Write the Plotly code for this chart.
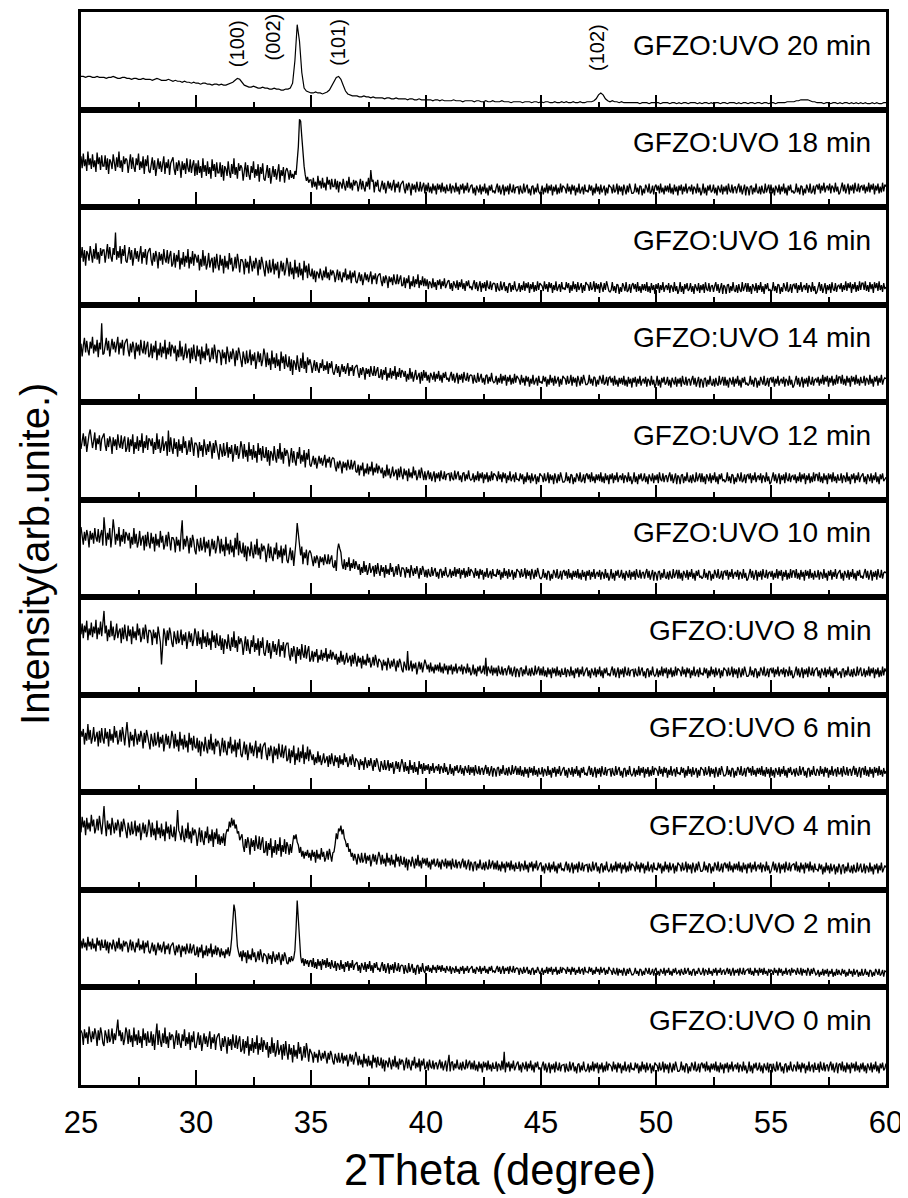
import numpy as np
import plotly.graph_objects as go

sample_labels = ["GFZO:UVO 20 min", "GFZO:UVO 18 min", "GFZO:UVO 16 min", "GFZO:UVO 14 min",
                 "GFZO:UVO 12 min", "GFZO:UVO 10 min", "GFZO:UVO 8 min", "GFZO:UVO 6 min",
                 "GFZO:UVO 4 min", "GFZO:UVO 2 min", "GFZO:UVO 0 min"]

x_tick_vals = [25, 30, 35, 40, 45, 50, 55, 60]
x_minor_vals = [27.5, 32.5, 37.5, 42.5, 47.5, 52.5, 57.5]

peak_names = ["(100)", "(002)", "(101)", "(102)"]
peak_pos = [31.78, 33.35, 36.2, 47.43]
peak_label_y = [68, 74, 69, 64]

# 20 min scan: 2-theta from 25 in steps of 0.1 deg; other scans: steps of 0.05 deg
step_20min = 0.1
step_scan = 0.05

# Intensities (arb. units, each panel scaled 0-100)
p20 = [34,34,33,34,34,33,33,34,33,33, 33,32,33,33,34,33,32,32,33,33, 32,32,31,32,32,31,31,32,31,31,
       31,30,31,32,31,30,30,30,31,30, 29,30,29,29,28,29,28,28,27,28, 27,27,26,27,27,26,26,25,26,26,
       25,26,25,25,26,27,28,30,32,31, 28,25,24,23,23,24,23,22,22,23, 22,22,21,21,22,21,21,20,20,21,
       21,22,27,50,87,70,38,22,19,18, 17,17,18,17,17,16,17,18,20,24, 29,33,34,31,25,19,16,15,14,14,
       14,13,13,14,13,13,12,13,12,12, 12,12,11,12,12,11,11,12,11,11, 11,11,10,11,11,10,10,11,10,10,
       10,10,10,9,10,10,9,10,9,9, 9,9,10,9,9,9,8,9,9,9, 9,8,9,9,8,8,9,8,8,9,
       8,8,8,9,8,8,8,7,8,8, 8,8,7,8,8,8,7,8,8,7, 8,7,8,8,7,7,8,7,7,8,
       7,8,7,7,8,7,7,8,7,7, 8,8,8,9,11,15,17,15,11,9, 8,9,8,8,7,8,7,7,7,7,
       7,7,7,6,7,7,7,6,7,7, 7,7,6,7,7,7,6,7,7,6, 7,6,7,7,6,7,7,7,6,7,
       6,7,7,6,7,6,7,7,6,7, 7,6,7,7,7,6,7,6,7,7, 6,7,7,6,7,7,6,7,7,6,
       7,7,6,7,7,7,7,8,8,8, 8,9,9,10,10,10,10,9,8,8, 7,7,7,6,7,7,6,7,7,6,
       7,6,7,7,6,7,6,7,6,7, 6,7,6,6,7,6,7,6,6,7, 7]

p18 = [
    52,40,55,42,49,37,57,43,50,39,54,41,48,36,56,44,51,38,53,42,
    42,53,38,50,34,49,46,39,54,43,37,51,41,57,40,48,36,52,44,50,
    48,35,46,54,39,51,41,36,50,43,55,38,47,40,52,34,49,42,53,37,
    35,45,51,38,48,32,44,50,39,47,36,43,52,34,46,40,49,33,45,48,
    51,39,33,46,37,48,42,30,47,38,45,34,50,40,36,49,35,43,48,32,
    45,33,48,35,42,30,50,36,43,32,47,34,41,29,49,37,44,31,46,35,
    35,46,31,43,27,42,39,32,47,36,30,44,34,50,33,41,29,45,37,43,
    40,27,38,46,31,43,33,28,42,35,47,30,39,32,44,26,41,34,45,29,
    27,37,43,30,40,24,36,42,31,39,28,35,44,26,38,32,41,25,37,40,
    36,28,38,30,34,29,37,33,45,62,90,88,72,55,42,33,27,31,25,28,
    28,20,30,21,26,18,32,22,27,19,30,20,25,17,31,23,28,18,29,21,
    21,29,18,27,15,26,24,19,29,22,17,27,20,31,19,25,17,28,22,27,
    25,16,23,29,18,27,20,16,26,21,30,18,38,26,28,15,26,21,28,17,
    16,23,27,18,25,14,22,27,19,25,17,22,28,15,24,20,26,15,23,25,
    27,19,14,24,17,25,21,12,24,18,23,15,26,19,16,26,16,21,25,14,
    23,16,25,15,21,14,24,17,22,13,24,18,23,15,25,16,21,14,23,17,
    17,24,14,22,20,15,25,16,21,13,23,18,24,14,22,17,25,15,20,22,
    23,14,20,12,22,19,15,23,13,21,16,24,14,20,12,22,17,23,15,17,
    14,20,24,15,22,13,19,23,12,21,16,22,13,24,17,15,23,14,20,21,
    21,13,22,16,14,24,15,20,23,14,19,12,21,22,13,20,15,24,16,14,
    16,22,13,20,15,24,14,22,17,23,12,21,16,23,13,20,14,24,15,22,
    21,19,14,24,16,21,13,23,17,22,12,20,15,24,14,19,21,13,23,16,
    17,15,23,17,22,12,20,14,24,16,21,13,23,15,19,22,12,20,14,23,
    21,20,14,23,15,17,24,13,22,16,21,12,23,19,13,22,15,24,20,14,
    14,16,24,15,20,13,22,21,12,19,14,23,20,15,24,14,16,22,13,21,
    23,17,22,14,24,15,20,13,22,16,22,15,24,14,20,13,23,16,21,12,
    22,17,23,13,21,16,24,14,19,21,16,23,13,21,19,14,24,15,20,12,
    16,24,14,20,12,22,17,23,15,17,23,14,20,12,22,19,15,23,13,21,
    16,22,13,24,17,15,23,14,20,21,14,20,24,15,22,13,19,23,12,21,
    19,12,21,22,13,20,15,24,16,14,21,13,22,16,14,24,15,20,23,14,
    23,14,20,12,22,19,15,23,13,21,16,24,14,20,12,22,17,23,15,17,
    14,16,24,15,20,13,22,21,12,19,14,23,20,15,24,14,16,22,13,21,
    23,18,24,14,22,17,25,15,20,22,17,24,14,22,20,15,25,16,21,13,
    15,21,25,16,23,14,20,24,13,22,17,23,14,25,18,16,24,15,21,22,
    17,23,14,21,16,25,15,23,18,24,13,22,17,24,14,21,15,25,16,23,
    21]

p16 = [
    48,59,44,56,40,55,52,45,60,49,43,57,47,63,46,54,42,58,50,56,
    56,43,54,62,47,59,49,44,58,51,74,46,55,48,60,42,57,50,61,45,
    43,53,59,46,56,40,52,58,47,55,44,51,60,42,54,48,57,41,53,56,
    58,46,40,53,44,55,49,37,54,45,52,41,57,47,43,56,42,50,55,39,
    42,53,38,51,44,56,36,48,41,54,39,50,43,57,37,49,42,55,40,52,
    49,43,51,35,47,39,56,40,50,36,42,53,38,45,48,33,49,37,52,41,
    35,51,40,47,32,50,38,45,36,53,41,48,34,39,49,37,52,44,33,46,
    46,43,31,47,38,44,32,50,41,34,45,37,48,42,30,46,36,49,43,33,
    29,45,40,32,46,33,37,47,31,42,35,44,27,39,45,34,43,30,36,48,
    41,29,44,31,38,26,46,32,39,28,43,30,37,25,45,33,40,27,42,31,
    29,37,26,35,23,34,32,27,37,30,25,35,28,39,27,33,25,36,30,35,
    32,23,30,36,25,34,27,23,33,28,37,25,31,26,35,22,33,28,35,24,
    22,29,33,24,31,20,28,33,25,31,23,28,34,21,30,26,32,21,29,31,
    32,24,19,29,22,30,26,17,29,23,28,20,31,24,21,31,21,26,30,19,
    20,28,17,27,22,30,16,24,19,29,18,26,21,31,17,25,20,29,19,27,
    19,26,16,24,22,17,27,18,23,15,25,20,26,16,24,19,27,17,22,24,
    25,16,22,14,24,21,17,25,15,23,18,26,16,22,14,24,19,25,17,19,
    15,21,25,16,23,14,20,24,13,22,17,23,14,25,18,16,24,15,21,22,
    21,13,22,16,14,24,15,20,23,14,19,12,21,22,13,20,15,24,16,14,
    16,22,13,20,15,24,14,22,17,23,12,21,16,23,13,20,14,24,15,22,
    21,19,14,24,16,21,13,23,17,22,12,20,15,24,14,19,21,13,23,16,
    17,15,23,17,22,12,20,14,24,16,21,13,23,15,19,22,12,20,14,23,
    21,20,14,23,15,17,24,13,22,16,21,12,23,19,13,22,15,24,20,14,
    13,15,23,14,19,12,21,20,11,18,13,22,19,14,23,13,15,21,12,20,
    22,16,21,13,23,14,19,12,21,15,21,14,23,13,19,12,22,15,20,11,
    21,16,22,12,20,15,23,13,18,20,15,22,12,20,18,13,23,14,19,11,
    15,23,13,19,11,21,16,22,14,16,22,13,19,11,21,18,14,22,12,20,
    15,21,12,23,16,14,22,13,19,20,13,19,23,14,21,12,18,22,11,20,
    18,11,20,21,12,19,14,23,15,13,20,12,21,15,13,23,14,19,22,13,
    22,13,19,11,21,18,14,22,12,20,15,23,13,19,11,21,16,22,14,16,
    13,15,23,14,19,12,21,20,11,18,13,22,19,14,23,13,15,21,12,20,
    21,16,22,12,20,15,23,13,18,20,15,22,12,20,18,13,23,14,19,11,
    13,19,23,14,21,12,18,22,11,20,15,21,12,23,16,14,22,13,19,20,
    16,22,13,20,15,24,14,22,17,23,12,21,16,23,13,20,14,24,15,22,
    22,15,24,14,20,13,23,16,21,12,23,17,22,14,24,15,20,13,22,16,
    18]

p14 = [
    60,47,58,66,51,63,53,48,62,55,67,50,59,52,64,46,61,54,81,49,
    50,60,66,53,63,47,59,65,54,62,51,58,67,49,61,55,64,48,60,63,
    65,53,47,60,51,62,56,44,61,52,59,48,64,54,50,63,49,57,62,46,
    49,60,45,58,51,63,43,55,48,61,46,57,50,64,44,56,49,62,47,59,
    56,50,58,42,54,46,63,47,57,43,49,60,45,52,55,40,56,44,59,48,
    42,58,47,54,39,57,45,52,43,60,48,55,41,46,56,44,59,51,40,53,
    53,50,38,54,45,51,39,57,48,41,52,44,55,49,37,53,43,56,50,40,
    36,52,47,39,53,40,44,54,38,49,42,51,34,46,52,41,50,37,43,55,
    48,36,51,38,45,33,53,39,46,35,50,37,44,32,52,40,47,34,49,38,
    36,47,32,44,28,43,40,33,48,37,31,45,35,51,34,42,30,46,38,44,
    39,30,37,43,32,41,34,30,40,35,44,32,38,33,42,29,40,35,42,31,
    28,35,39,30,37,26,34,39,31,37,29,34,40,27,36,32,38,27,35,37,
    38,30,25,35,28,36,32,23,35,29,34,26,37,30,27,37,27,32,36,25,
    26,34,23,33,28,36,22,30,25,35,24,32,27,37,23,31,26,35,25,33,
    31,26,32,21,29,23,35,24,31,21,26,33,23,28,30,19,31,22,33,25,
    31,22,28,20,30,27,23,31,21,29,24,32,22,28,20,30,25,31,23,25,
    21,27,31,22,29,20,26,30,19,28,23,29,20,31,24,22,30,21,27,28,
    27,19,28,22,20,30,21,26,29,20,25,18,27,28,19,26,21,30,22,20,
    21,27,18,25,20,29,19,27,22,28,17,26,21,28,18,25,19,29,20,27,
    25,23,18,28,20,25,17,27,21,26,16,24,19,28,18,23,25,17,27,20,
    21,19,27,21,26,16,24,18,28,20,25,17,27,19,23,26,16,24,18,27,
    25,24,18,27,19,21,28,17,26,20,25,16,27,23,17,26,19,28,24,18,
    18,20,28,19,24,17,26,25,16,23,18,27,24,19,28,18,20,26,17,25,
    26,20,25,17,27,18,23,16,25,19,25,18,27,17,23,16,26,19,24,15,
    25,20,26,16,24,19,27,17,22,24,19,26,16,24,22,17,27,18,23,15,
    19,27,17,23,15,25,20,26,18,20,26,17,23,15,25,22,18,26,16,24,
    19,25,16,27,20,18,26,17,23,24,17,23,27,18,25,16,22,26,15,24,
    22,15,24,25,16,23,18,27,19,17,24,16,25,19,17,27,18,23,26,17,
    26,17,23,15,25,22,18,26,16,24,19,27,17,23,15,25,20,26,18,20,
    17,19,27,18,23,16,25,24,15,22,17,26,23,18,27,17,19,25,16,24,
    25,20,26,16,24,19,27,17,22,24,19,26,16,24,22,17,27,18,23,15,
    17,23,27,18,25,16,22,26,15,24,19,25,16,27,20,18,26,17,23,24,
    20,26,17,24,19,28,18,26,21,27,16,25,20,27,17,24,18,28,19,26,
    26,19,28,18,24,17,27,20,25,16,27,21,26,18,28,19,24,17,26,20,
    20,27,17,25,23,18,28,19,24,16,26,21,27,17,25,20,28,18,23,25,
    24]

p12 = [
    52,62,68,55,65,49,61,67,72,64,53,60,69,51,63,57,66,50,62,65,
    68,56,50,63,54,65,59,47,64,55,62,51,67,57,53,66,52,60,65,49,
    53,64,49,62,55,67,47,59,52,65,50,61,54,68,48,60,53,66,51,63,
    61,55,63,47,59,51,68,52,62,48,54,65,50,57,60,45,71,49,64,53,
    47,63,52,59,44,62,50,57,48,65,53,60,46,51,61,49,64,56,45,58,
    58,55,43,59,50,56,44,62,53,46,57,49,60,54,42,58,48,61,55,45,
    41,57,52,44,58,45,49,59,43,54,47,56,39,51,57,46,55,42,48,60,
    54,42,57,44,51,39,59,45,52,41,56,43,50,38,58,46,53,40,55,44,
    43,54,39,51,35,50,47,40,55,44,38,52,42,58,41,49,37,53,45,51,
    47,34,45,53,38,50,40,35,49,42,54,37,46,39,51,33,48,41,52,36,
    34,41,45,36,43,32,40,45,37,43,35,40,46,33,42,38,44,33,41,43,
    42,34,29,39,32,40,36,27,39,33,38,30,41,34,31,41,31,36,40,29,
    28,36,25,35,30,38,24,32,27,37,26,34,29,39,25,33,28,37,27,35,
    32,27,33,22,30,24,36,25,32,22,27,34,24,29,31,20,32,23,34,26,
    21,32,25,30,19,32,23,28,22,34,25,30,20,24,31,22,33,27,20,29,
    20,26,30,21,28,19,25,29,18,27,22,28,19,30,23,21,29,20,26,27,
    27,19,28,22,20,30,21,26,29,20,25,18,27,28,19,26,21,30,22,20,
    21,27,18,25,20,29,19,27,22,28,17,26,21,28,18,25,19,29,20,27,
    26,24,19,29,21,26,18,28,22,27,17,25,20,29,19,24,26,18,28,21,
    21,19,27,21,26,16,24,18,28,20,25,17,27,19,23,26,16,24,18,27,
    25,24,18,27,19,21,28,17,26,20,25,16,27,23,17,26,19,28,24,18,
    18,20,28,19,24,17,26,25,16,23,18,27,24,19,28,18,20,26,17,25,
    27,21,26,18,28,19,24,17,26,20,26,19,28,18,24,17,27,20,25,16,
    26,21,27,17,25,20,28,18,23,25,20,27,17,25,23,18,28,19,24,16,
    20,28,18,24,16,26,21,27,19,21,27,18,24,16,26,23,19,27,17,25,
    20,26,17,28,21,19,27,18,24,25,18,24,28,19,26,17,23,27,16,25,
    23,16,25,26,17,24,19,28,20,18,25,17,26,20,18,28,19,24,27,18,
    27,18,24,16,26,23,19,27,17,25,20,28,18,24,16,26,21,27,19,21,
    18,20,28,19,24,17,26,25,16,23,18,27,24,19,28,18,20,26,17,25,
    26,21,27,17,25,20,28,18,23,25,20,27,17,25,23,18,28,19,24,16,
    18,24,28,19,26,17,23,27,16,25,20,26,17,28,21,19,27,18,24,25,
    20,26,17,24,19,28,18,26,21,27,16,25,20,27,17,24,18,28,19,26,
    26,19,28,18,24,17,27,20,25,16,27,21,26,18,28,19,24,17,26,20,
    20,27,17,25,23,18,28,19,24,16,26,21,27,17,25,20,28,18,23,25,
    27,18,24,16,26,23,19,27,17,25,20,28,18,24,16,26,21,27,19,21,
    23]

p10 = [
    72,60,54,67,58,69,63,51,68,59,66,55,71,61,57,70,56,64,69,53,
    82,68,53,66,59,71,51,63,80,69,54,65,58,72,52,64,57,70,55,67,
    64,58,66,50,62,54,71,55,65,51,57,68,53,60,63,48,64,52,67,56,
    50,66,55,62,47,65,53,60,51,68,56,63,49,54,64,52,67,59,48,61,
    61,58,46,62,53,59,47,65,79,49,60,52,63,57,45,61,51,64,58,48,
    44,60,55,47,61,48,52,62,46,57,50,59,42,54,60,49,58,45,51,63,
    57,45,60,47,54,42,62,48,55,44,59,46,53,41,61,49,66,43,58,47,
    45,56,41,53,37,52,49,42,57,46,40,54,44,60,43,51,39,55,47,53,
    49,36,47,55,40,52,42,37,51,44,56,39,48,41,53,35,50,43,54,38,
    35,45,51,38,48,32,44,58,76,62,53,43,52,34,46,40,49,33,45,48,
    45,37,32,42,35,43,39,30,42,36,41,33,44,37,34,44,34,39,43,32,
    30,38,27,48,55,50,46,34,29,39,28,36,31,41,27,35,30,39,29,37,
    33,28,34,23,31,25,37,26,33,23,28,35,25,30,32,21,33,24,35,27,
    22,33,26,31,20,33,24,29,23,35,26,31,21,25,32,23,34,28,21,30,
    30,28,20,31,25,29,20,33,27,22,30,24,32,27,19,30,23,32,28,21,
    28,20,29,23,21,31,22,27,30,21,26,19,28,29,20,27,22,31,23,21,
    23,29,20,27,22,31,21,29,24,30,19,28,23,30,20,27,21,31,22,29,
    27,25,20,30,22,27,19,29,23,28,18,26,21,30,20,25,27,19,29,22,
    23,21,29,23,28,18,26,20,30,22,27,19,29,21,25,28,18,26,20,29,
    27,26,20,29,21,23,30,19,28,22,27,18,29,25,19,28,21,30,26,20,
    19,21,29,20,25,18,27,26,17,24,19,28,25,20,29,19,21,27,18,26,
    28,22,27,19,29,20,25,18,27,21,27,20,29,19,25,18,28,21,26,17,
    27,22,28,18,26,21,29,19,24,26,21,28,18,26,24,19,29,20,25,17,
    21,29,19,25,17,27,22,28,20,22,28,19,25,17,27,24,20,28,18,26,
    21,27,18,29,22,20,28,19,25,26,19,25,29,20,27,18,24,28,17,26,
    24,17,26,27,18,25,20,29,21,19,26,18,27,21,19,29,20,25,28,19,
    28,19,25,17,27,24,20,28,18,26,21,29,19,25,17,27,22,28,20,22,
    19,21,29,20,25,18,27,26,17,24,19,28,25,20,29,19,21,27,18,26,
    27,22,28,18,26,21,29,19,24,26,21,28,18,26,24,19,29,20,25,17,
    19,25,29,20,27,18,24,28,17,26,21,27,18,29,22,20,28,19,25,26,
    21,27,18,25,20,29,19,27,22,28,17,26,21,28,18,25,19,29,20,27,
    27,20,29,19,25,18,28,21,26,17,28,22,27,19,29,20,25,18,27,21,
    21,28,18,26,24,19,29,20,25,17,27,22,28,18,26,21,29,19,24,26,
    28,19,25,17,27,24,20,28,18,26,21,29,19,25,17,27,22,28,20,22,
    19,25,29,20,27,18,24,28,17,26,21,27,18,29,22,20,28,19,25,26,
    25]

p8 = [
    62,73,58,71,64,76,56,68,61,74,59,70,63,77,57,69,62,75,60,72,
    86,63,71,55,67,59,76,60,70,56,62,73,58,65,68,53,69,57,72,61,
    55,71,60,67,52,70,58,65,56,73,61,68,54,59,69,57,72,64,53,66,
    66,63,51,67,58,64,52,70,61,54,31,57,68,62,50,66,56,69,63,53,
    49,65,60,52,66,53,57,67,51,62,55,64,47,59,65,54,63,50,56,68,
    62,50,65,52,59,47,67,53,60,49,64,51,58,46,66,54,61,48,63,52,
    50,61,46,58,42,57,54,47,62,51,45,59,49,65,48,56,44,60,52,58,
    54,41,52,60,45,57,47,42,56,49,61,44,53,46,58,40,55,48,59,43,
    40,50,56,43,53,37,49,55,44,52,41,48,57,39,51,45,54,38,50,53,
    53,41,35,48,39,50,44,32,49,40,47,36,52,42,38,51,37,45,50,34,
    37,45,34,44,39,47,33,41,36,46,35,43,38,48,34,42,37,46,36,44,
    41,36,42,31,39,33,45,34,41,31,36,43,33,38,40,29,41,32,43,35,
    29,40,33,38,27,40,31,36,30,42,33,38,28,32,39,30,41,35,28,37,
    35,33,25,36,30,34,25,38,32,27,35,29,37,32,24,35,28,37,33,26,
    23,34,30,25,45,25,28,35,24,32,27,33,21,30,34,26,33,23,28,36,
    32,26,31,23,33,24,29,22,31,25,31,24,33,23,29,22,32,25,30,21,
    30,25,31,21,29,24,32,22,27,29,24,31,21,29,27,22,32,23,28,20,
    23,31,21,27,19,29,24,30,22,24,30,21,38,19,29,26,22,30,20,28,
    22,28,19,30,23,21,29,20,26,27,20,26,30,21,28,19,25,29,18,27,
    25,18,27,28,19,26,21,30,22,20,27,19,28,22,20,30,21,26,29,20,
    27,20,29,19,25,18,28,21,26,17,28,22,27,19,29,20,25,18,27,21,
    21,28,18,26,24,19,29,20,25,17,27,22,28,18,26,21,29,19,24,26,
    28,19,25,17,27,24,20,28,18,26,21,29,19,25,17,27,22,28,20,22,
    19,25,29,20,27,18,24,28,17,26,21,27,18,29,22,20,28,19,25,26,
    26,18,27,21,19,29,20,25,28,19,24,17,26,27,18,25,20,29,21,19,
    21,27,18,25,20,29,19,27,22,28,17,26,21,28,18,25,19,29,20,27,
    26,24,19,29,21,26,18,28,22,27,17,25,20,29,19,24,26,18,28,21,
    22,20,28,22,27,17,25,19,29,21,26,18,28,20,24,27,17,25,19,28,
    26,25,19,28,20,22,29,18,27,21,26,17,28,24,18,27,20,29,25,19,
    19,21,29,20,25,18,27,26,17,24,19,28,25,20,29,19,21,27,18,26,
    27,22,28,18,26,21,29,19,24,26,21,28,18,26,24,19,29,20,25,17,
    19,25,29,20,27,18,24,28,17,26,21,27,18,29,22,20,28,19,25,26,
    28,19,25,17,27,24,20,28,18,26,21,29,19,25,17,27,22,28,20,22,
    24,17,26,27,18,25,20,29,21,19,26,18,27,21,19,29,20,25,28,19,
    21,27,18,25,20,29,19,27,22,28,17,26,21,28,18,25,19,29,20,27,
    24]

p6 = [
    63,57,65,49,61,53,70,54,64,50,56,67,52,59,62,47,63,51,66,55,
    50,66,55,62,47,65,53,60,51,68,56,63,49,54,64,52,67,59,48,61,
    72,58,46,62,53,59,47,65,56,49,60,52,63,57,45,61,51,64,58,48,
    44,60,55,47,61,48,52,62,46,57,50,59,42,54,60,49,58,45,51,63,
    57,45,60,47,54,42,62,48,55,44,59,46,53,41,61,49,56,43,58,47,
    45,56,41,53,37,52,49,42,57,46,40,54,44,60,43,51,39,55,47,53,
    50,37,48,56,41,53,43,38,52,45,57,40,49,42,54,36,51,44,55,39,
    36,46,52,39,49,33,45,51,40,48,37,44,53,35,47,41,50,34,46,49,
    51,39,33,46,37,48,42,30,47,38,45,34,50,40,36,49,35,43,48,32,
    34,45,30,43,36,48,28,40,33,46,31,42,35,49,29,41,34,47,32,44,
    38,33,39,28,36,30,42,31,38,28,33,40,30,35,37,26,38,29,40,32,
    27,38,31,36,25,38,29,34,28,40,31,36,26,30,37,28,39,33,26,35,
    33,31,23,34,28,32,23,36,30,25,33,27,35,30,22,33,26,35,31,24,
    21,32,28,23,33,23,26,33,22,30,25,31,19,28,32,24,31,21,26,34,
    29,21,31,22,27,19,33,23,28,20,31,21,26,18,32,24,29,19,30,22,
    28,23,29,19,27,22,30,20,25,27,22,29,19,27,25,20,30,21,26,18,
    21,29,19,25,17,27,22,28,20,22,28,19,25,17,27,24,20,28,18,26,
    20,26,17,28,21,19,27,18,24,25,18,24,28,19,26,17,23,27,16,25,
    23,16,25,26,17,24,19,28,20,18,25,17,26,20,18,28,19,24,27,18,
    25,18,27,17,23,16,26,19,24,15,26,20,25,17,27,18,23,16,25,19,
    19,26,16,24,22,17,27,18,23,15,25,20,26,16,24,19,27,17,22,24,
    26,17,23,15,25,22,18,26,16,24,19,27,17,23,15,25,20,26,18,20,
    17,23,27,18,25,16,22,26,15,24,19,25,16,27,20,18,26,17,23,24,
    24,16,25,19,17,27,18,23,26,17,22,15,24,25,16,23,18,27,19,17,
    19,25,16,23,18,27,17,25,20,26,15,24,19,26,16,23,17,27,18,25,
    24,22,17,27,19,24,16,26,20,25,15,23,18,27,17,22,24,16,26,19,
    20,18,26,20,25,15,23,17,27,19,24,16,26,18,22,25,15,23,17,26,
    24,23,17,26,18,20,27,16,25,19,24,15,26,22,16,25,18,27,23,17,
    17,19,27,18,23,16,25,24,15,22,17,26,23,18,27,17,19,25,16,24,
    26,20,25,17,27,18,23,16,25,19,25,18,27,17,23,16,26,19,24,15,
    26,17,23,15,25,22,18,26,16,24,19,27,17,23,15,25,20,26,18,20,
    24,16,25,19,17,27,18,23,26,17,22,15,24,25,16,23,18,27,19,17,
    24,22,17,27,19,24,16,26,20,25,15,23,18,27,17,22,24,16,26,19,
    19,25,16,27,20,18,26,17,23,24,17,23,27,18,25,16,22,26,15,24,
    25,18,27,17,23,16,26,19,24,15,26,20,25,17,27,18,23,16,25,19,
    22]

p4 = [
    59,75,64,71,56,74,62,69,60,77,65,72,58,63,73,61,76,68,57,70,
    86,67,55,71,62,68,56,74,65,58,69,61,72,66,54,70,60,73,67,57,
    53,69,64,56,70,57,61,71,55,66,59,68,51,63,69,58,67,54,60,72,
    66,54,69,56,63,51,71,57,64,53,68,55,62,50,70,58,65,52,67,56,
    54,65,50,62,82,61,58,51,66,55,49,63,53,69,52,60,48,64,56,62,
    58,45,56,64,49,61,51,46,60,53,65,48,57,50,62,44,59,52,63,47,
    57,46,55,48,58,45,57,62,60,70,64,74,66,72,63,67,58,60,51,55,
    57,45,39,52,43,54,48,36,53,44,51,40,56,46,42,55,41,49,54,38,
    39,50,35,48,41,53,33,45,38,51,36,47,40,54,34,46,39,52,37,49,
    45,36,47,38,50,56,52,57,49,46,38,44,34,40,32,39,35,41,33,38,
    30,41,34,39,28,41,32,37,31,43,34,39,29,33,40,31,42,36,29,38,
    39,47,58,52,63,60,66,57,62,53,50,44,48,39,42,34,38,30,37,32,
    26,37,33,28,38,28,31,38,27,35,30,36,24,33,37,29,36,26,31,39,
    34,26,36,27,32,24,38,28,33,25,36,26,31,23,37,29,34,24,35,27,
    26,34,23,32,20,31,29,24,34,27,22,32,25,36,24,30,22,33,27,32,
    25,33,23,29,21,31,26,32,24,26,32,23,29,21,31,28,24,32,22,30,
    24,30,21,32,25,23,31,22,28,29,22,28,32,23,30,21,27,31,20,29,
    26,19,28,29,20,27,22,31,23,21,28,20,29,23,21,31,22,27,30,21,
    28,21,30,20,26,19,29,22,27,18,29,23,28,20,30,21,26,19,28,22,
    22,29,19,27,25,20,30,21,26,18,28,23,29,19,27,22,30,20,25,27,
    28,19,25,17,27,24,20,28,18,26,21,29,19,25,17,27,22,28,20,22,
    19,25,29,20,27,18,24,28,17,26,21,27,18,29,22,20,28,19,25,26,
    26,18,27,21,19,29,20,25,28,19,24,17,26,27,18,25,20,29,21,19,
    21,27,18,25,20,29,19,27,22,28,17,26,21,28,18,25,19,29,20,27,
    26,24,19,29,21,26,18,28,22,27,17,25,20,29,19,24,26,18,28,21,
    22,20,28,22,27,17,25,19,29,21,26,18,28,20,24,27,17,25,19,28,
    26,25,19,28,20,22,29,18,27,21,26,17,28,24,18,27,20,29,25,19,
    19,21,29,20,25,18,27,26,17,24,19,28,25,20,29,19,21,27,18,26,
    28,22,27,19,29,20,25,18,27,21,27,20,29,19,25,18,28,21,26,17,
    27,22,28,18,26,21,29,19,24,26,21,28,18,26,24,19,29,20,25,17,
    19,25,29,20,27,18,24,28,17,26,21,27,18,29,22,20,28,19,25,26,
    27,20,29,19,25,18,28,21,26,17,28,22,27,19,29,20,25,18,27,21,
    21,19,27,21,26,16,24,18,28,20,25,17,27,19,23,26,16,24,18,27,
    23,16,25,26,17,24,19,28,20,18,25,17,26,20,18,28,19,24,27,18,
    20,27,17,25,23,18,28,19,24,16,26,21,27,17,25,20,28,18,23,25,
    23]

p2 = [
    48,40,50,41,46,38,52,42,47,39,50,40,45,37,51,43,48,38,49,41,
    41,49,38,47,35,46,44,39,49,42,37,47,40,51,39,45,37,48,42,47,
    45,36,43,49,38,47,40,36,46,41,50,38,44,39,48,35,46,41,48,37,
    35,42,46,37,44,33,41,46,38,44,36,41,47,34,43,39,45,34,42,44,
    46,38,33,43,36,44,40,31,43,37,42,34,45,38,35,45,35,40,44,33,
    34,42,31,41,36,44,30,38,33,43,32,40,35,45,31,39,34,43,33,41,
    38,31,40,33,37,30,39,34,41,32,38,50,70,85,78,55,42,36,31,37,
    27,38,31,36,25,38,29,34,28,40,31,36,26,30,37,28,39,33,26,35,
    34,32,24,35,29,33,24,37,31,26,34,28,36,31,23,34,27,36,32,25,
    24,31,26,32,27,30,38,60,89,70,45,32,25,30,22,29,24,28,21,27,
    28,21,30,20,26,19,29,22,27,18,29,23,28,20,30,21,26,19,28,22,
    20,27,17,25,23,18,28,19,24,16,26,21,27,17,25,20,28,18,23,25,
    26,17,23,15,25,22,18,26,16,24,19,27,17,23,15,25,20,26,18,20,
    16,22,26,17,24,15,21,25,14,23,18,24,15,26,19,17,25,16,22,23,
    22,14,23,17,15,25,16,21,24,15,20,13,22,23,14,21,16,25,17,15,
    22,17,23,16,20,15,23,18,21,15,23,18,22,16,23,17,20,15,22,18,
    17,22,14,20,19,15,22,16,19,14,21,17,22,14,20,17,22,15,19,20,
    22,15,19,14,21,19,16,22,14,20,17,22,15,19,14,21,17,22,16,17,
    15,19,22,16,21,14,19,22,14,20,17,21,14,22,17,16,22,15,19,20,
    19,13,20,16,14,21,15,18,21,14,18,13,19,20,13,18,15,21,16,14,
    16,20,13,18,15,21,14,20,16,21,13,19,16,21,13,18,14,21,15,20,
    19,18,14,21,16,19,13,21,16,20,13,18,15,21,14,18,19,13,21,16,
    16,15,21,16,20,13,18,14,21,16,19,13,21,15,18,20,13,18,14,21,
    18,17,13,20,15,14,20,12,19,15,18,12,20,17,12,19,14,20,17,13,
    13,15,20,14,17,12,19,18,12,17,13,20,17,14,20,13,15,19,12,18,
    20,13,17,12,19,17,14,20,12,18,15,20,13,17,12,19,15,20,14,15,
    18,12,19,15,13,20,14,17,20,13,17,12,18,19,12,17,14,20,15,13,
    15,20,12,18,17,13,20,14,17,12,19,15,20,12,18,15,20,13,17,18,
    13,17,20,14,19,12,17,20,12,18,15,19,12,20,15,14,20,13,17,18,
    19,14,20,13,17,12,20,15,18,12,20,15,19,13,20,14,17,12,19,15,
    18,17,13,20,15,18,12,20,15,19,12,17,14,20,13,17,18,12,20,15,
    18,17,13,20,15,14,20,12,19,15,18,12,20,17,12,19,14,20,17,13,
    14,18,11,16,13,19,12,18,14,19,11,17,14,19,11,16,12,19,13,18,
    14,13,19,14,18,11,16,12,19,14,17,11,19,13,16,18,11,16,12,19,
    12,14,19,13,16,11,18,17,11,16,12,19,16,13,19,12,14,18,11,17,
    16]

p0 = [
    56,53,41,57,48,54,42,60,51,44,55,47,58,52,40,56,46,59,53,43,
    40,56,51,43,57,44,48,58,42,53,46,55,67,50,56,45,54,41,47,59,
    54,42,57,44,51,39,59,45,52,41,56,43,50,38,58,46,53,40,55,44,
    44,55,40,52,36,51,63,41,56,45,39,53,43,59,42,50,38,54,46,52,
    50,37,48,56,41,53,43,38,52,45,57,40,49,42,54,36,51,44,55,39,
    38,48,54,41,51,35,47,53,42,50,39,46,55,37,49,43,52,36,48,51,
    53,41,35,48,39,50,44,32,49,40,47,36,52,42,38,51,37,45,50,34,
    36,47,32,45,38,50,30,42,35,48,33,44,37,51,31,43,36,49,34,46,
    42,36,44,28,40,32,49,33,43,29,35,46,31,38,41,26,42,30,45,34,
    26,42,31,38,23,41,29,36,27,44,32,39,25,30,40,28,43,35,24,37,
    33,31,23,34,28,32,23,36,30,25,33,27,35,30,22,33,26,35,31,24,
    21,32,28,23,33,23,26,33,22,30,25,31,19,28,32,24,31,21,26,34,
    28,20,30,21,26,18,32,22,27,19,30,20,25,17,31,23,28,18,29,21,
    20,28,17,26,14,25,23,18,28,21,16,26,19,30,18,24,16,27,21,26,
    24,15,22,28,17,26,19,15,25,20,29,17,23,18,27,14,25,20,27,16,
    18,24,15,26,19,17,25,16,22,23,16,22,26,17,24,15,21,25,14,23,
    31,14,23,24,15,22,17,26,18,16,23,15,24,18,16,26,17,22,25,16,
    23,16,25,15,21,14,24,17,22,13,24,18,23,15,25,16,21,14,23,17,
    17,24,14,22,20,15,25,16,34,13,23,18,24,14,22,17,25,15,20,22,
    24,15,21,13,23,20,16,24,14,22,17,25,15,21,13,23,18,24,16,18,
    14,20,24,15,22,13,19,23,12,21,16,22,13,24,17,15,23,14,20,21,
    21,13,22,16,14,24,15,20,23,14,19,12,21,22,13,20,15,24,16,14,
    16,22,13,20,15,24,14,22,17,23,12,21,16,23,13,20,14,24,15,22,
    21,19,14,24,16,21,13,23,17,22,12,20,15,24,14,19,21,13,23,16,
    17,15,23,17,22,12,20,14,24,16,21,13,23,15,19,22,12,20,14,23,
    21,20,14,23,15,17,24,13,22,16,21,12,23,19,13,22,15,24,20,14,
    14,16,24,15,20,13,22,21,12,19,14,23,20,15,24,14,16,22,13,21,
    23,17,22,14,24,15,20,13,22,16,22,15,24,14,20,13,23,16,21,12,
    22,17,23,13,21,16,24,14,19,21,16,23,13,21,19,14,24,15,20,12,
    16,24,14,20,12,22,17,23,15,17,23,14,20,12,22,19,15,23,13,21,
    21,13,22,16,14,24,15,20,23,14,19,12,21,22,13,20,15,24,16,14,
    21,19,14,24,16,21,13,23,17,22,12,20,15,24,14,19,21,13,23,16,
    16,22,13,24,17,15,23,14,20,21,14,20,24,15,22,13,19,23,12,21,
    22,15,24,14,20,13,23,16,21,12,23,17,22,14,24,15,20,13,22,16,
    23,14,20,12,22,19,15,23,13,21,16,24,14,20,12,22,17,23,15,17,
    22]

series = [p20, p18, p16, p14, p12, p10, p8, p6, p4, p2, p0]
steps = [step_20min] + [step_scan] * 10

FONT = "Liberation Sans, Arial, sans-serif"
n = len(series)
fig = go.Figure()
layout = dict(
    width=900, height=1191,
    margin=dict(l=73, r=22, t=1, b=114),
    paper_bgcolor="white", plot_bgcolor="white",
    showlegend=False,
    font=dict(family=FONT, color="black"),
)
annotations = []
for i in range(n):
    sfx = "" if i == 0 else str(i + 1)
    two_theta = np.round(25 + steps[i] * np.arange(len(series[i])), 2)
    fig.add_trace(go.Scatter(x=two_theta, y=series[i], mode="lines",
                             line=dict(color="black", width=1.3 if i else 1.2),
                             xaxis="x" + sfx, yaxis="y" + sfx, hoverinfo="skip"))
    top = 1 - i / n
    bot = 1 - (i + 1) / n
    layout["xaxis" + sfx] = dict(
        domain=[0, 1], anchor="y" + sfx, range=[25, 60],
        tickmode="array", tickvals=x_tick_vals,
        ticks="inside", ticklen=15, tickwidth=2.2, tickcolor="black",
        minor=dict(tickmode="array", tickvals=x_minor_vals, ticks="inside",
                   ticklen=8, tickwidth=2.2, tickcolor="black", showgrid=False),
        showline=True, linewidth=2.5, linecolor="black", mirror=True,
        showgrid=False, zeroline=False,
        showticklabels=(i == n - 1),
        ticklabelstandoff=8,
        tickfont=dict(family=FONT, size=31, color="black"),
    )
    layout["yaxis" + sfx] = dict(
        domain=[bot, top], anchor="x" + sfx, range=[0, 100],
        showticklabels=False, ticks="", showgrid=False, zeroline=False,
        showline=True, linewidth=2.5, linecolor="black", mirror=True,
    )
    annotations.append(dict(
        text=sample_labels[i], xref="x" + sfx + " domain", yref="y" + sfx + " domain",
        x=0.984, y=0.66, xanchor="right", yanchor="middle", showarrow=False,
        font=dict(family=FONT, size=28, color="black")))

for name, px, py in zip(peak_names, peak_pos, peak_label_y):
    annotations.append(dict(text=name, x=px, y=py, xref="x", yref="y", textangle=-90,
                            showarrow=False, xanchor="center", yanchor="middle",
                            font=dict(family=FONT, size=20, color="black")))

annotations.append(dict(text="Intensity(arb.unite.)", xref="paper", yref="paper",
                        x=-0.057, y=0.495, textangle=-90, showarrow=False,
                        xanchor="center", yanchor="middle",
                        font=dict(family=FONT, size=40, color="black")))
annotations.append(dict(text="2Theta (degree)", xref="paper", yref="paper",
                        x=0.52, y=-0.079, showarrow=False,
                        xanchor="center", yanchor="middle",
                        font=dict(family=FONT, size=43.5, color="black")))
layout["annotations"] = annotations
fig.update_layout(**layout)
fig.write_html("out.html")
